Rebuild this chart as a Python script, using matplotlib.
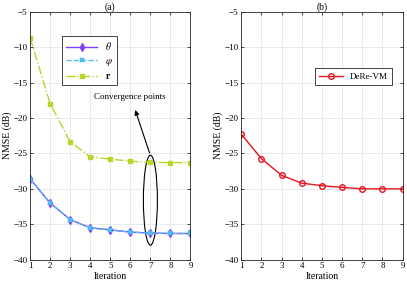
import numpy as np
import matplotlib.pyplot as plt
from matplotlib.patches import Ellipse

plt.rcParams['font.family'] = ['Liberation Serif', 'DejaVu Serif']
plt.rcParams['mathtext.fontset'] = 'stix'

iters = [1, 2, 3, 4, 5, 6, 7, 8, 9]
theta = [-28.6, -32.0, -34.35, -35.5, -35.8, -36.1, -36.25, -36.3, -36.3]
phi = [-28.6, -32.0, -34.35, -35.5, -35.8, -36.1, -36.25, -36.3, -36.3]
r = [-8.65, -18.0, -23.35, -25.5, -25.8, -26.1, -26.25, -26.3, -26.3]
derevm = [-22.3, -25.75, -28.1, -29.2, -29.55, -29.8, -30.0, -30.0, -30.0]

fig = plt.figure(figsize=(4.07, 2.86), dpi=100)
ax1 = fig.add_axes([0.074, 0.092, 0.394, 0.867])
ax2 = fig.add_axes([0.593, 0.092, 0.396, 0.867])


def style(ax, title):
    ax.set_xlim(1, 9)
    ax.set_ylim(-40, -5)
    ax.set_xticks(iters)
    ax.set_yticks(np.arange(-40, -4, 5))
    ax.grid(True, color='#e6e6e6', linewidth=0.6)
    ax.set_axisbelow(True)
    ax.tick_params(direction='in', top=True, right=True, labelsize=6.5,
                   length=2.5, width=0.5, pad=2)
    for s in ax.spines.values():
        s.set_linewidth(0.6)
        s.set_color('#262626')
    ax.set_xlabel('Iteration', fontsize=7, labelpad=1)
    ax.set_ylabel('NMSE (dB)', fontsize=7, labelpad=1)
    ax.set_title(title, fontsize=7, pad=1.5)


# panel (a)
ax1.plot(iters, theta, '-', color='#8040ff', marker='d', markersize=4,
         linewidth=1.0, label=r'$\theta$')
ax1.plot(iters, phi, '--', color='#4dbeee', marker='x', markersize=3.5,
         markeredgewidth=1.5, linewidth=1.0, label=r'$\varphi$')
ax1.plot(iters, r, '-.', color='#bcd42a', marker='s', markersize=3.5,
         linewidth=1.0, label=r'$\mathbf{r}$')
style(ax1, '(a)')
ax1.legend(loc='upper left', bbox_to_anchor=(0.17, 0.92), fontsize=7,
           fancybox=False, edgecolor='#262626', framealpha=1,
           handlelength=3.2, borderpad=0.4, labelspacing=0.45)
ax1.legendlabel = None
ax1.get_legend().get_frame().set_linewidth(0.6)

ax1.add_patch(Ellipse((7, -31.6), 0.7, 12.7, fill=False,
                      edgecolor='black', linewidth=0.8))
ax1.annotate('', xy=(6.2, -18.5), xytext=(7.0, -25.3),
             arrowprops=dict(arrowstyle='-|>', color='black', lw=0.8,
                             mutation_scale=7))
ax1.text(5.95, -17.0, 'Convergence points', fontsize=6.5,
         ha='center', va='center')

# panel (b)
ax2.plot(iters, derevm, '-', color='#e8141e', marker='o', markersize=4,
         markerfacecolor='none', markeredgewidth=1.0, linewidth=1.0,
         label='DeRe-VM')
style(ax2, '(b)')
leg = ax2.legend(loc='upper left', bbox_to_anchor=(0.43, 0.79), fontsize=6.5,
                 fancybox=False, edgecolor='#262626', framealpha=1,
                 handlelength=2.6, borderpad=0.45)
leg.get_frame().set_linewidth(0.6)

fig.savefig('out.png', dpi=100)
